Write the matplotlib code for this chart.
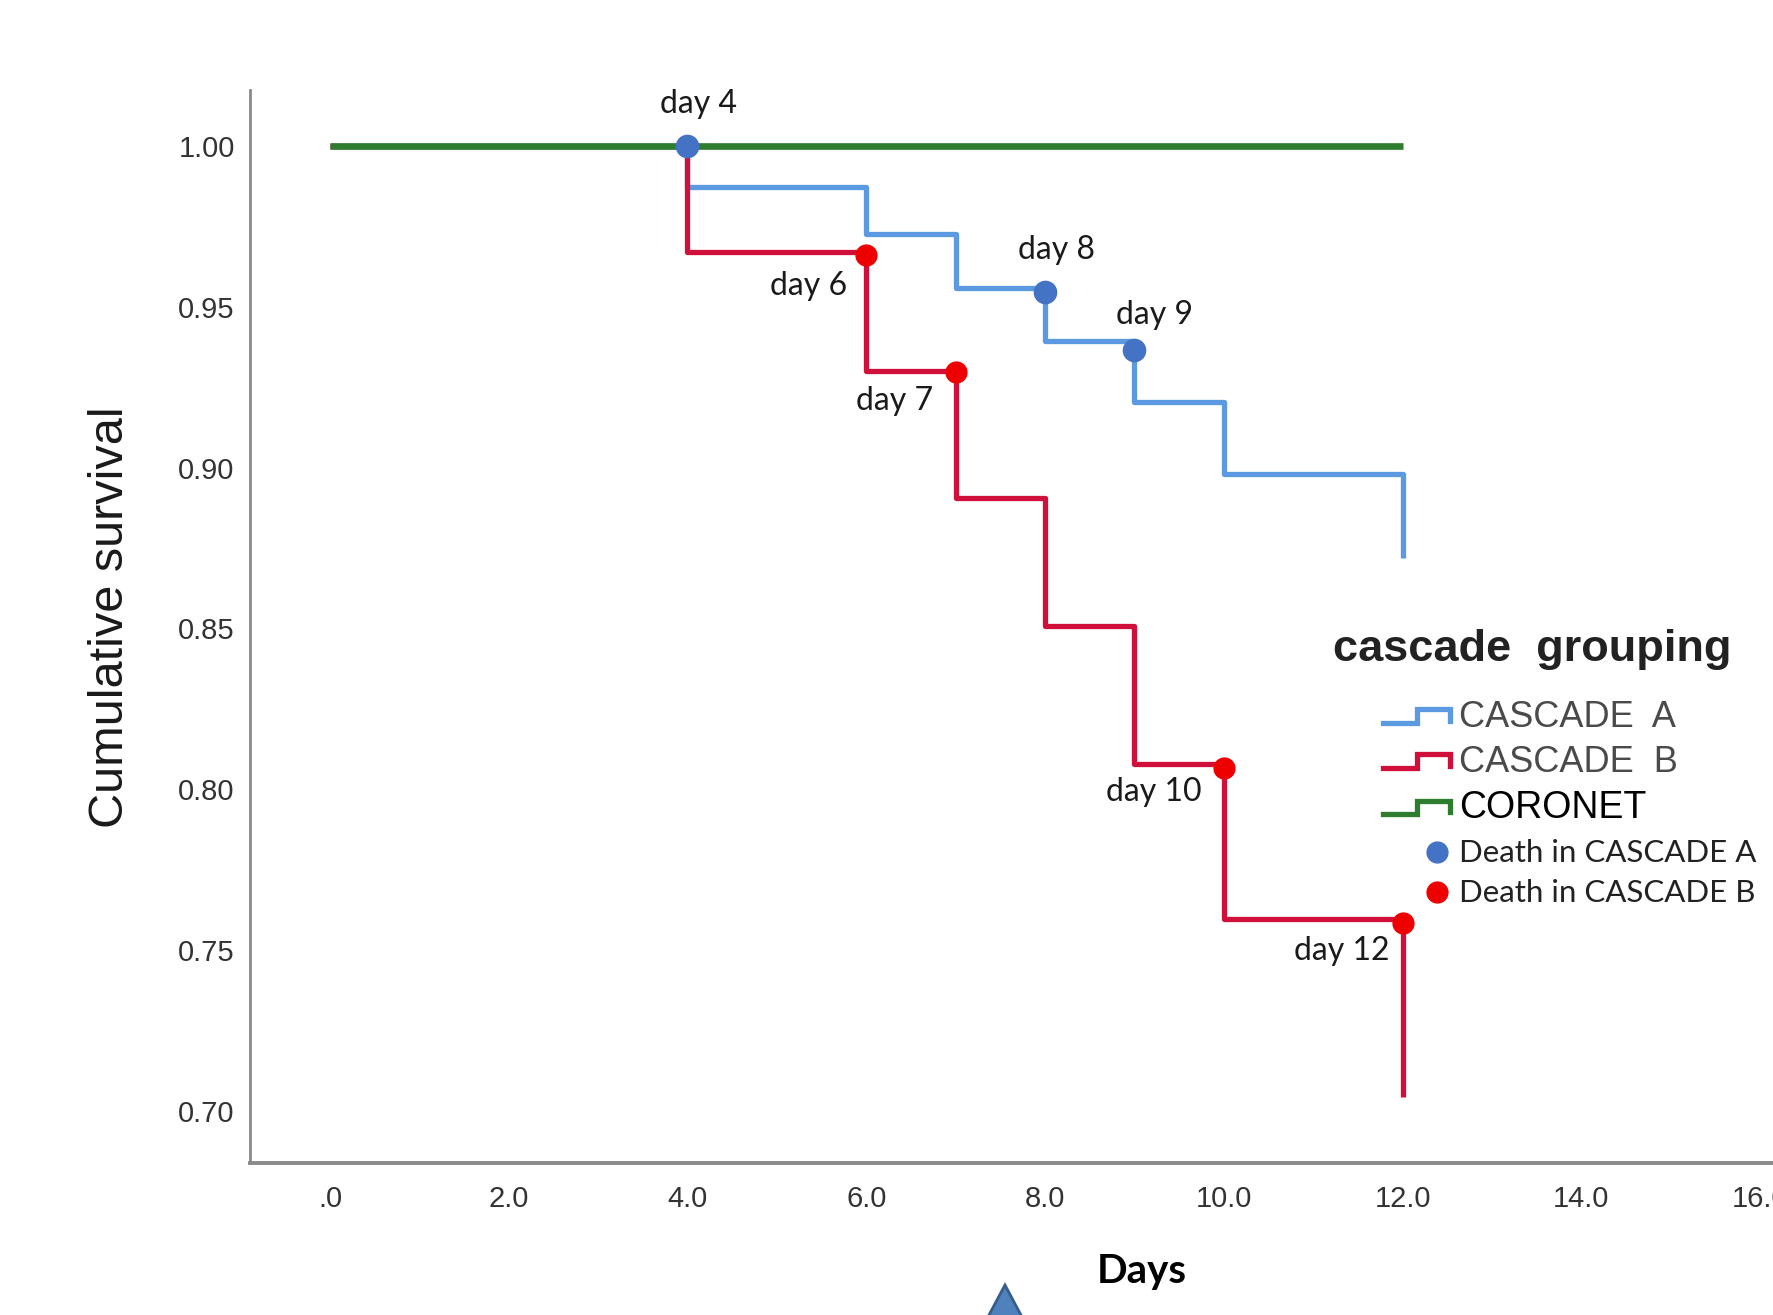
import matplotlib
matplotlib.use("Agg")
import matplotlib.pyplot as plt
from matplotlib.lines import Line2D
from matplotlib.legend_handler import HandlerBase
from matplotlib.patches import Polygon

# Kaplan-Meier style step data
times = [0, 4, 6, 7, 8, 9, 10, 12]
surv_a = [1.0, 0.9873, 0.9726, 0.9557, 0.9392, 0.9205, 0.8980, 0.8720]
surv_b = [1.0, 0.9669, 0.9300, 0.8906, 0.8509, 0.8077, 0.7595, 0.7043]
coronet_times = [0, 12]
surv_coronet = [1.0, 1.0]

# deaths marked on the curves
death_a_days = [4, 8, 9]
death_a_surv = [1.0, 0.9547, 0.9367]
death_b_days = [6, 7, 10, 12]
death_b_surv = [0.9662, 0.9297, 0.8066, 0.7584]

xticks = [0, 2, 4, 6, 8, 10, 12, 14, 16]
xtick_labels = [".0", "2.0", "4.0", "6.0", "8.0", "10.0", "12.0", "14.0", "16.0"]
yticks = [0.70, 0.75, 0.80, 0.85, 0.90, 0.95, 1.00]
ytick_labels = ["0.70", "0.75", "0.80", "0.85", "0.90", "0.95", "1.00"]

group_labels = ["CASCADE  A", "CASCADE  B", "CORONET"]
death_labels = ["Death in CASCADE A", "Death in CASCADE B"]

col_a = "#5b9ae0"
col_b = "#d0103a"
col_cor = "#2e7d2e"
col_dot_a = "#4472c4"
col_dot_b = "#ee0000"

# offsets (pixels) for the "day N" labels
off_a = [(11, 42), (11, 42), (20, 35)]
off_b = [(-58, -31), (-61, -29), (-70, -24), (-61, -28)]


class HandlerStep(HandlerBase):
    # draws the little SPSS-like step symbol, or a dot on the right side
    def create_artists(self, legend, orig_handle, xdescent, ydescent,
                       width, height, fontsize, trans):
        x0, y0 = -xdescent, -ydescent
        if orig_handle.get_linestyle() in ("None", "none", ""):
            ln = Line2D([x0 + 0.8 * width], [y0 + 0.4 * height], ls="none",
                        marker="o", markersize=orig_handle.get_markersize(),
                        color=orig_handle.get_markerfacecolor())
        else:
            lo, hi = y0 + 0.15 * height, y0 + 0.7 * height
            xm = x0 + 0.5 * width
            ln = Line2D([x0, xm, xm, x0 + width, x0 + width],
                        [lo, lo, hi, hi, lo + 0.1 * height],
                        color=orig_handle.get_color(), lw=orig_handle.get_linewidth(),
                        solid_joinstyle="miter")
        ln.set_transform(trans)
        return [ln]


fig = plt.figure(figsize=(17.74, 13.15), dpi=100)
ax = fig.add_axes([0.1409, 0.1156, 0.9019, 0.816])

ax.step(times, surv_a, where="post", color=col_a, lw=3.8, solid_capstyle="butt")
ax.step(times, surv_b, where="post", color=col_b, lw=3.8, solid_capstyle="butt")
ax.plot(coronet_times, surv_coronet, color=col_cor, lw=4.8, solid_capstyle="butt")
ax.plot(death_a_days, death_a_surv, "o", color=col_dot_a, ms=16, zorder=5)
ax.plot(death_b_days, death_b_surv, "o", color=col_dot_b, ms=15, zorder=5)

for d, s, off in zip(death_a_days, death_a_surv, off_a):
    ax.annotate(f"day {d}", (d, s), xytext=off, textcoords="offset pixels",
                ha="center", va="center", fontsize=23, family="Lato", color="#1a1a1a")
for d, s, off in zip(death_b_days, death_b_surv, off_b):
    ax.annotate(f"day {d}", (d, s), xytext=off, textcoords="offset pixels",
                ha="center", va="center", fontsize=23, family="Lato", color="#1a1a1a")

ax.set_xlim(-0.895, 17.005)
ax.set_ylim(0.6838, 1.0174)
ax.set_xticks(xticks, xtick_labels)
ax.set_yticks(yticks, ytick_labels)
ax.tick_params(length=0, labelsize=21, labelcolor="#333333")
ax.tick_params(axis="y", pad=11)
ax.tick_params(axis="x", pad=16)
for lab in ax.get_xticklabels() + ax.get_yticklabels():
    lab.set_family("Liberation Sans")

for side in ["top", "right"]:
    ax.spines[side].set_visible(False)
ax.spines["left"].set_color("#8a8a8a")
ax.spines["left"].set_linewidth(2)
ax.spines["bottom"].set_color("#8a8a8a")
ax.spines["bottom"].set_linewidth(2.8)

ax.set_ylabel("Cumulative survival", fontsize=35, family="Liberation Sans", color="#1a1a1a")
ax.yaxis.label.set_va("center")
ax.yaxis.set_label_coords(-0.0874, 0.509)
ax.set_xlabel("Days", fontsize=29, family="Lato", fontweight="bold", color="black")
ax.xaxis.set_label_coords(0.5575, -0.1007)
ax.xaxis.label.set_va("center")

# legend
fig.text(1333 / 1774, 1 - 649 / 1315, "cascade  grouping", fontsize=32.5, fontweight="bold",
         family="Liberation Sans", color="#222222", ha="left", va="center")

handles = [Line2D([], [], color=col_a, lw=3.8),
           Line2D([], [], color=col_b, lw=3.8),
           Line2D([], [], color=col_cor, lw=3.8),
           Line2D([], [], ls="none", marker="o", ms=15, markerfacecolor=col_dot_a, color=col_dot_a),
           Line2D([], [], ls="none", marker="o", ms=15, markerfacecolor=col_dot_b, color=col_dot_b)]
leg = fig.legend(handles, group_labels + death_labels, loc="upper left",
                 bbox_to_anchor=(1383 / 1774, 1 - 700 / 1315), frameon=False,
                 fontsize=26, borderpad=0, borderaxespad=0, handlelength=1.86,
                 handletextpad=0.25, labelspacing=0.28,
                 handler_map={Line2D: HandlerStep()})
texts = leg.get_texts()
for t in texts[:2]:
    t.set_family("Liberation Sans")
    t.set_color("#4a4a4a")
texts[2].set_family("Liberation Sans")
texts[2].set_fontsize(27)
texts[2].set_color("black")
for t in texts[3:]:
    t.set_family("Lato")
    t.set_fontsize(22.5)
    t.set_color("#222222")

# the blue arrow head peeking in at the bottom
fig.add_artist(Polygon([[0.5665, 0.0228], [0.5496, -0.02], [0.5834, -0.02]], closed=True,
                       transform=fig.transFigure, facecolor="#4f81bd", edgecolor="#385d8a", lw=2))

fig.savefig("out.png", dpi=100)
